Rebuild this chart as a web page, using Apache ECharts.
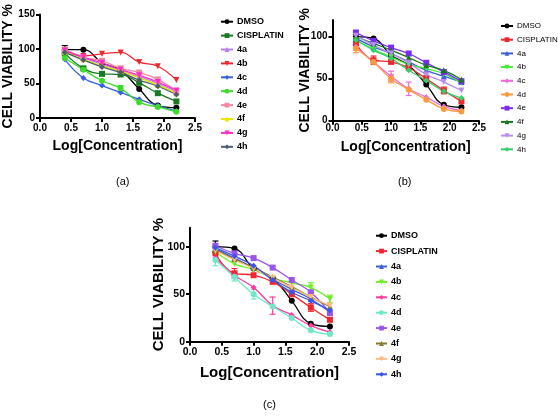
<!DOCTYPE html>
<html><head><meta charset="utf-8">
<script src="https://cdn.jsdelivr.net/npm/echarts@6/dist/echarts.min.js"></script>
<style>html,body{margin:0;padding:0;background:#fff}#c{width:558px;height:419px}</style>
</head><body><div id="c"></div>
<script>
const logConc = [0.4, 0.7, 1.0, 1.3, 1.6, 1.9, 2.2];
const seriesNames = ['DMSO','CISPLATIN','4a','4b','4c','4d','4e','4f','4g','4h'];
const xTicks = [0, 0.5, 1.0, 1.5, 2.0, 2.5];
const yTicksA = [0, 50, 100, 150];
const yTicksBC = [0, 50, 100];

// Panel (a)
const aDMSO = [99, 99, 80, 69, 42, 18, 15];
const aCISPLATIN = [94, 72, 64, 63, 51, 36, 24];
const a4a = [97, 87, 78, 68, 60, 50, 38];
const a4b = [98, 90, 93, 95, 81, 75, 55];
const a4c = [85, 58, 47, 37, 27, 18, 10];
const a4d = [87, 70, 54, 43, 23, 16, 9];
const a4e = [99, 88, 83, 72, 66, 56, 39];
const a4f = [96, 85, 76, 68, 58, 48, 36];
const a4g = [98, 88, 80, 70, 62, 52, 40];
const a4h = [95, 84, 74, 66, 55, 46, 34];
// Panel (b)
const bDMSO = [100, 98, 78, 66, 43, 19, 16];
const bCISPLATIN = [92, 72, 70, 63, 50, 36, 23];
const b4a = [98, 88, 80, 70, 60, 53, 46];
const b4b = [96, 85, 76, 67, 62, 56, 45];
const b4c = [88, 70, 53, 38, 28, 17, 12];
const b4d = [86, 70, 50, 37, 25, 14, 11];
const b4e = [105, 95, 87, 80, 69, 58, 47];
const b4f = [100, 92, 84, 75, 66, 60, 49];
const b4g = [101, 90, 80, 69, 55, 46, 36];
const b4h = [96, 84, 74, 60, 48, 35, 27];
// Panel (c)
const cDMSO = [100, 98, 77, 67, 43, 19, 16];
const cCISPLATIN = [93, 72, 70, 63, 50, 36, 23];
const c4a = [98, 88, 78, 66, 55, 45, 31];
const c4b = [95, 82, 76, 67, 62, 57, 45];
const c4c = [88, 70, 57, 38, 28, 17, 10];
const c4d = [86, 68, 50, 37, 25, 12, 8];
const c4e = [101, 93, 88, 78, 65, 52, 30];
const c4f = [97, 87, 78, 68, 58, 47, 37];
const c4g = [96, 86, 77, 67, 57, 47, 38];
const c4h = [99, 90, 80, 65, 52, 43, 33];

// Error bar half-lengths (only the visible ones)
const aErrDMSO = [6, 0, 0, 0, 0, 0, 0];
const aErr4d = [0, 0, 0, 4, 0, 0, 0];
const bErrCISPLATIN = [0, 5, 0, 0, 4, 4, 0];
const bErr4c = [4, 0, 6, 8, 0, 0, 0];
const bErr4d = [5, 0, 5, 0, 0, 0, 0];
const cErrDMSO = [6, 0, 0, 0, 0, 0, 0];
const cErrCISPLATIN = [0, 5, 0, 0, 0, 4, 0];
const cErr4b = [0, 0, 0, 0, 0, 5, 4];
const cErr4c = [0, 0, 0, 9, 0, 0, 0];
const cErr4d = [6, 4, 5, 0, 0, 0, 0];

const panelData = [
  [aDMSO,aCISPLATIN,a4a,a4b,a4c,a4d,a4e,a4f,a4g,a4h],
  [bDMSO,bCISPLATIN,b4a,b4b,b4c,b4d,b4e,b4f,b4g,b4h],
  [cDMSO,cCISPLATIN,c4a,c4b,c4c,c4d,c4e,c4f,c4g,c4h]
];
const panelErrors = [
  [[0, aErrDMSO], [5, aErr4d]],
  [[1, bErrCISPLATIN], [4, bErr4c], [5, bErr4d]],
  [[0, cErrDMSO], [1, cErrCISPLATIN], [3, cErr4b], [4, cErr4c], [5, cErr4d]]
];
const panelColors = [
  ['#000000','#187a23','#b47ef0','#f0262e','#3a5fe0','#3ddc2a','#f38aa0','#e8e800','#ff2bc8','#4d5d70'],
  ['#000000','#f0262e','#3a62d8','#40f030','#ee6ad8','#ff9a3c','#7b2cf0','#17771f','#b98cf0','#33d06a'],
  ['#000000','#f0262e','#3a62d8','#6cf024','#ff3aa0','#70e8c8','#9a55ee','#877a30','#ffbb80','#3a55ee']
];
const symbols = ['circle','rect','triangle','triangle','diamond','circle','rect','triangle','triangle','diamond'];
const rotations = [0,0,0,180,0,0,0,0,180,0];
const panelKeys = ['a','b','c'];

const font = 'Liberation Sans, Arial, sans-serif';
const grids = [
  {left: 40, top: 14.5, width: 155, height: 103.5},
  {left: 332.5, top: 19.9, width: 146.5, height: 100.8},
  {left: 190, top: 227.7, width: 159, height: 114}
];
const yMax = [150, 120, 120];
const yTickSets = [yTicksA, yTicksBC, yTicksBC];
const titleSize = [14, 14, 15];
const labelSize = [10, 10, 10.5];
const xNameGap = [21.5, 19, 24];
const yNameGap = [25, 20.5, 24];
const xLabelMargin = [5, 3, 5];

const axisLine = {show: true, lineStyle: {color: '#000', width: 2}};
const xAxes = grids.map((g, i) => ({
  gridIndex: i, type: 'value', min: 0, max: 2.5, interval: 0.5,
  name: 'Log[Concentration]', nameLocation: 'middle', nameGap: xNameGap[i], nameMoveOverlap: false,
  nameTextStyle: {fontFamily: font, fontWeight: 'bold', fontSize: titleSize[i], color: '#000'},
  axisLine: axisLine,
  axisTick: {show: true, inside: false, length: 4, lineStyle: {color: '#000', width: 2}, customValues: xTicks},
  axisLabel: {fontFamily: font, fontWeight: 'bold', fontSize: labelSize[i], color: '#000', margin: xLabelMargin[i],
    customValues: xTicks, formatter: v => v.toFixed(1)},
  splitLine: {show: false}
}));
const yAxes = grids.map((g, i) => ({
  gridIndex: i, type: 'value', min: 0, max: yMax[i], interval: 50,
  name: 'CELL VIABILITY %', nameLocation: 'middle', nameGap: yNameGap[i], nameMoveOverlap: false,
  nameTextStyle: {fontFamily: font, fontWeight: 'bold', fontSize: titleSize[i], color: '#000'},
  axisLine: axisLine,
  axisTick: {show: true, inside: false, length: 4, lineStyle: {color: '#000', width: 2}, customValues: yTickSets[i]},
  axisLabel: {fontFamily: font, fontWeight: 'bold', fontSize: labelSize[i], color: '#000', margin: 5,
    customValues: yTickSets[i]},
  splitLine: {show: false}
}));

const series = [];
const legends = [];
const legendPos = [
  {left: 220, top: 16.7, itemGap: 3.9, itemWidth: 12, bold: 'bold', size: 9},
  {left: 500, top: 21, itemGap: 3.7, itemWidth: 12, bold: 'normal', size: 8},
  {left: 375, top: 230.7, itemGap: 5.4, itemWidth: 11, bold: 'bold', size: 9}
];
panelData.forEach((arrs, p) => {
  const names = [];
  arrs.forEach((vals, k) => {
    const nm = panelKeys[p] + '|' + seriesNames[k];
    names.push(nm);
    series.push({
      name: nm, type: 'line', xAxisIndex: p, yAxisIndex: p,
      data: vals.map((v, j) => [logConc[j], v]),
      smooth: 0.45, symbol: symbols[k], symbolRotate: rotations[k],
      symbolSize: 6,
      itemStyle: {color: panelColors[p][k]},
      lineStyle: {color: panelColors[p][k], width: 1.3},
      animation: false, z: 3
    });
  });
  panelErrors[p].forEach(([k, errs]) => {
    const col = panelColors[p][k];
    series.push({
      type: 'custom', xAxisIndex: p, yAxisIndex: p, z: 2, silent: true,
      data: errs.map((e, j) => [logConc[j], arrs[k][j], e]).filter(d => d[2] > 0),
      renderItem: (params, api) => {
        const x = api.value(0), y = api.value(1), e = api.value(2);
        const top = api.coord([x, y + e]);
        const bot = api.coord([x, y - e]);
        const st = {stroke: col, lineWidth: 1.2};
        return {type: 'group', children: [
          {type: 'line', shape: {x1: top[0], y1: top[1], x2: bot[0], y2: bot[1]}, style: st},
          {type: 'line', shape: {x1: top[0] - 3, y1: top[1], x2: top[0] + 3, y2: top[1]}, style: st},
          {type: 'line', shape: {x1: bot[0] - 3, y1: bot[1], x2: bot[0] + 3, y2: bot[1]}, style: st}
        ]};
      },
      animation: false
    });
  });
  const lp = legendPos[p];
  legends.push({
    data: names, orient: 'vertical', left: lp.left, top: lp.top,
    itemGap: lp.itemGap, itemWidth: lp.itemWidth, itemHeight: 6,
    selectedMode: false, padding: 0,
    formatter: n => n.split('|')[1],
    textStyle: {fontFamily: font, fontWeight: lp.bold, fontSize: lp.size, color: '#000', lineHeight: 10, padding: [0,0,0,-1]}
  });
});

const chart = echarts.init(document.getElementById('c'), null, {renderer: 'canvas'});
chart.setOption({
  backgroundColor: '#fff',
  animation: false,
  grid: grids,
  xAxis: xAxes,
  yAxis: yAxes,
  legend: legends,
  series: series,
  graphic: [
    {type: 'text', left: 116, top: 176, style: {text: '(a)', font: '11px Liberation Sans, Arial, sans-serif', fill: '#000'}},
    {type: 'text', left: 398, top: 176, style: {text: '(b)', font: '11px Liberation Sans, Arial, sans-serif', fill: '#000'}},
    {type: 'text', left: 263, top: 399, style: {text: '(c)', font: '11px Liberation Sans, Arial, sans-serif', fill: '#000'}}
  ]
});
</script>
</body></html>
